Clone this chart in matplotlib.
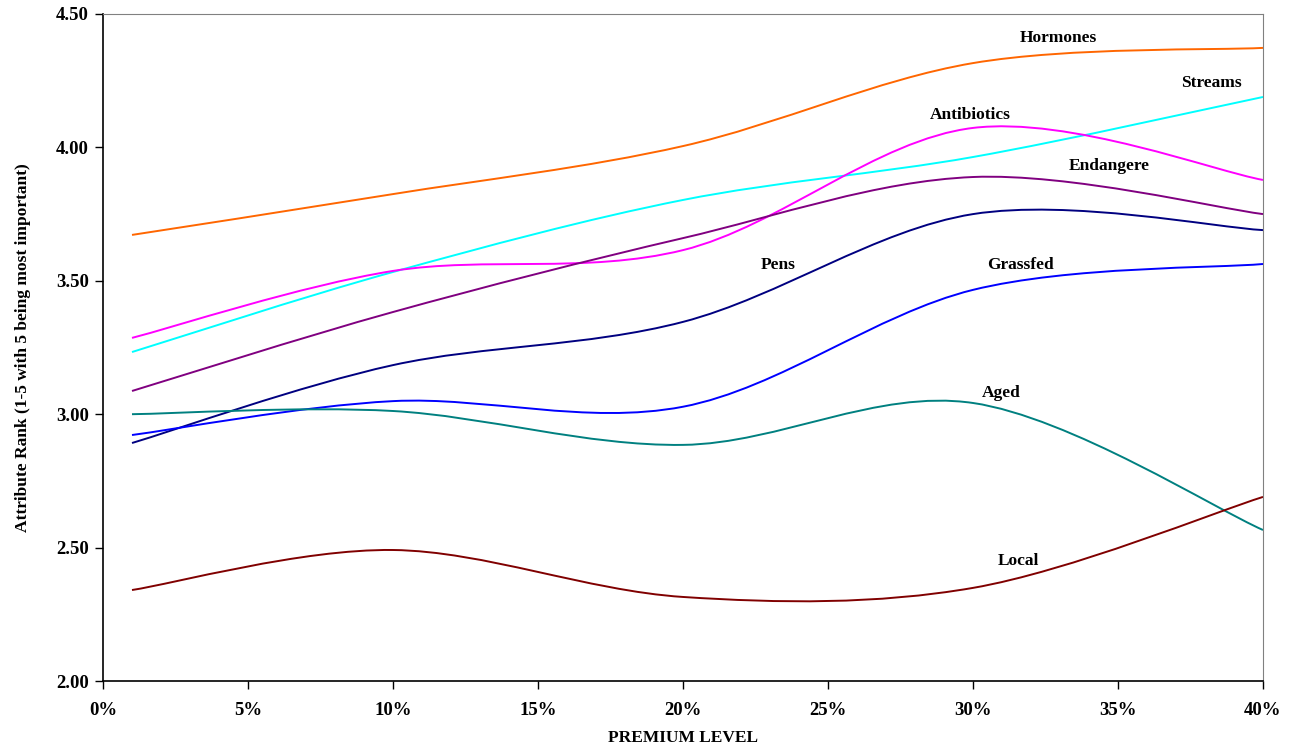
import matplotlib
matplotlib.use("Agg")
import matplotlib.pyplot as plt
import numpy as np
from matplotlib.patches import PathPatch
from matplotlib.path import Path
from matplotlib.ticker import FuncFormatter, MultipleLocator

plt.rcParams["font.family"] = ["Liberation Serif", "DejaVu Serif"]
plt.rcParams["font.weight"] = "bold"

premium = [1, 10, 20, 30, 40]

hormones = [3.672, 3.825, 4.005, 4.316, 4.373]
streams = [3.233, 3.533, 3.803, 3.964, 4.189]
antibiotics = [3.286, 3.537, 3.615, 4.073, 3.878]
endangere = [3.087, 3.383, 3.660, 3.889, 3.750]
pens = [2.892, 3.184, 3.346, 3.750, 3.690]
grassfed = [2.922, 3.049, 3.028, 3.466, 3.563]
aged = [3.000, 3.012, 2.885, 3.042, 2.566]
local = [2.341, 2.491, 2.315, 2.349, 2.690]

series = [
    ("Hormones", hormones, "#FF6600", (1058, 4.41)),
    ("Streams", streams, "#00FFFF", (1211, 4.24)),
    ("Antibiotics", antibiotics, "#FF00FF", (970, 4.12)),
    ("Endangere", endangere, "#800080", (1109, 3.93)),
    ("Pens", pens, "#000080", (778, 3.56)),
    ("Grassfed", grassfed, "#0000FF", (1021, 3.56)),
    ("Aged", aged, "#008080", (1001, 3.08)),
    ("Local", local, "#800000", (1018, 2.45)),
]


def smooth_path(x, y):
    """Cubic Bezier path through the points, spreadsheet-style smoothing."""
    pts = np.column_stack([x, y]).astype(float)
    ext = np.vstack([pts[0], pts, pts[-1]])
    verts = [pts[0]]
    codes = [Path.MOVETO]
    for i in range(len(pts) - 1):
        p0, p1, p2, p3 = ext[i], ext[i + 1], ext[i + 2], ext[i + 3]
        c1 = p1 + (p2 - p0) / 6.0
        c2 = p2 - (p3 - p1) / 6.0
        verts += [c1, c2, p2]
        codes += [Path.CURVE4] * 3
    return Path(verts, codes)


fig = plt.figure(figsize=(12.94, 7.51), dpi=100)
ax = fig.add_axes([103 / 1294, 1 - 681 / 751, 1160 / 1294, 667 / 751])

for name, vals, color, (px, ly) in series:
    ax.add_patch(PathPatch(smooth_path(premium, vals), fill=False,
                           edgecolor=color, linewidth=1.4))
    # label x given in figure pixels, converted to percent
    lx = (px - 103) / 1160 * 40
    ax.text(lx, ly, name, ha="center", va="center", fontsize=12.5,
            fontweight="bold")

ax.set_xlim(0, 40)
ax.set_ylim(2.0, 4.5)
ax.xaxis.set_major_locator(MultipleLocator(5))
ax.yaxis.set_major_locator(MultipleLocator(0.5))
ax.xaxis.set_major_formatter(FuncFormatter(lambda v, _: f"{v:.0f}%"))
ax.yaxis.set_major_formatter(FuncFormatter(lambda v, _: f"{v:.2f}"))
ax.tick_params(direction="out", length=6, width=1, labelsize=13.5)
ax.tick_params(axis="x", pad=9)
ax.tick_params(axis="y", pad=4)
for lab in ax.get_xticklabels() + ax.get_yticklabels():
    lab.set_fontweight("bold")

ax.spines["top"].set_color("#808080")
ax.spines["right"].set_color("#808080")
for s in ("left", "bottom"):
    ax.spines[s].set_color("black")
    ax.spines[s].set_linewidth(1.2)

ax.set_xlabel("PREMIUM LEVEL", fontsize=12.5, fontweight="bold", labelpad=8)
ax.set_ylabel("Attribute Rank (1-5 with 5 being most important)", fontsize=12.5,
              fontweight="bold", labelpad=18)

fig.savefig("out.png", dpi=100)
